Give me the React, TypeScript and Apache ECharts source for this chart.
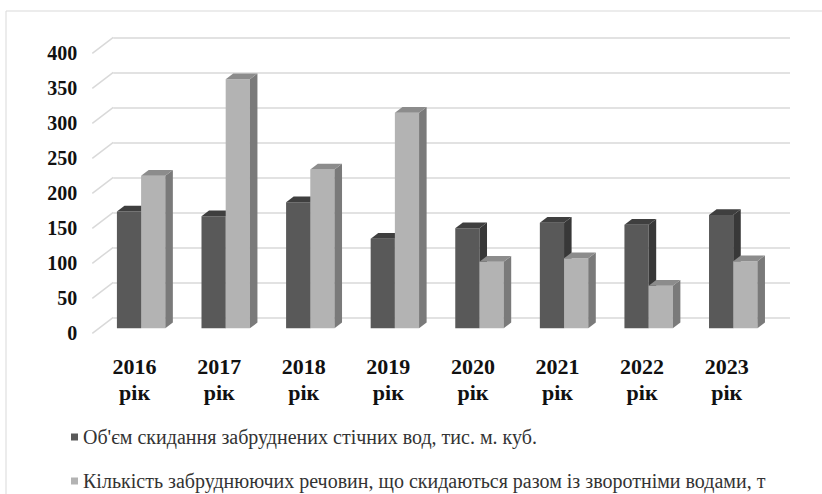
import { useEffect, useRef } from "react";
import * as echarts from "echarts";

// Years on the category axis
const categories = [
  "2016 рік",
  "2017 рік",
  "2018 рік",
  "2019 рік",
  "2020 рік",
  "2021 рік",
  "2022 рік",
  "2023 рік",
];

// Series 1: volume of polluted wastewater discharge, thousand m³
const wastewaterVolume = [167, 160, 180, 128, 143, 151, 148, 162];
// Series 2: pollutants discharged with return waters, t
const pollutantMass = [218, 356, 227, 308, 95, 100, 61, 96];

const seriesNames = [
  "Об'єм скидання забруднених стічних вод, тис. м. куб.",
  "Кількість забруднюючих речовин, що скидаються разом із зворотніми водами, т",
];

const yTicks = [0, 50, 100, 150, 200, 250, 300, 350, 400];

// Oblique depth of the floor (px) and where the boxes sit inside it
const DEPTH_X = 21;
const DEPTH_Y = -16;
const FRONT = 0.31;
const BACK = 0.67;
const BAR_FRAC = 0.286;

const SERIF = "Liberation Serif, serif";

type Shades = { front: string; side: string; top: string };

const darkShades: Shades = { front: "#595959", side: "#383838", top: "#3f3f3f" };
const lightShades: Shades = { front: "#b3b3b3", side: "#7a7a7a", top: "#8c8c8c" };

function boxRenderer(slot: number, shades: Shades) {
  return (_params: any, api: any) => {
    const i = api.value(0);
    const v = api.value(1);
    const base = api.coord([i, 0]);
    const top = api.coord([i, v]);
    const band = api.size([1, 0])[0];
    const w = band * BAR_FRAC;
    const x0 = base[0] - w + slot * w + FRONT * DEPTH_X;
    const yb = base[1] + FRONT * DEPTH_Y;
    const yt = top[1] + FRONT * DEPTH_Y;
    const dx = (BACK - FRONT) * DEPTH_X;
    const dy = (BACK - FRONT) * DEPTH_Y;
    return {
      type: "group",
      children: [
        {
          type: "rect",
          shape: { x: x0, y: yt, width: w, height: yb - yt },
          style: { fill: shades.front },
        },
        {
          type: "polygon",
          shape: {
            points: [
              [x0 + w, yt],
              [x0 + w + dx, yt + dy],
              [x0 + w + dx, yb + dy],
              [x0 + w, yb],
            ],
          },
          style: { fill: shades.side },
        },
        {
          type: "polygon",
          shape: {
            points: [
              [x0, yt],
              [x0 + dx, yt + dy],
              [x0 + w + dx, yt + dy],
              [x0 + w, yt],
            ],
          },
          style: { fill: shades.top },
        },
      ],
    };
  };
}

export default function App() {
  const ref = useRef<HTMLDivElement>(null);

  useEffect(() => {
    if (!ref.current) return;
    const chart = echarts.init(ref.current, undefined, { renderer: "svg" });

    const frontGrid = { left: 92.3, right: 53, top: 53.3, bottom: 160.7 };
    const backGrid = {
      left: frontGrid.left + DEPTH_X,
      right: frontGrid.right - DEPTH_X,
      top: frontGrid.top + DEPTH_Y,
      bottom: frontGrid.bottom - DEPTH_Y,
    };

    chart.setOption({
      animation: false,
      backgroundColor: "#ffffff",
      graphic: [
        {
          type: "rect",
          shape: { x: 6, y: 11, width: 900, height: 600 },
          style: { fill: "none", stroke: "#d9d9d9", lineWidth: 1 },
          silent: true,
          z: -10,
        },
      ],
      grid: [
        { ...frontGrid, containLabel: false },
        { ...backGrid, containLabel: false },
      ],
      xAxis: [
        {
          type: "category",
          gridIndex: 0,
          data: categories,
          axisLine: { show: false },
          axisTick: { show: false },
          axisLabel: {
            margin: 20,
            fontFamily: SERIF,
            fontWeight: "bold",
            fontSize: 22,
            lineHeight: 26,
            color: "#111",
            formatter: (v: string) => v.replace(" ", "\n"),
          },
        },
        {
          type: "category",
          gridIndex: 1,
          data: categories,
          show: false,
        },
      ],
      yAxis: [
        {
          type: "value",
          gridIndex: 0,
          min: 0,
          max: 400,
          interval: 50,
          axisLine: { show: false },
          axisTick: { show: false },
          splitLine: { show: false },
          axisLabel: {
            margin: 15,
            fontFamily: SERIF,
            fontWeight: "bold",
            fontSize: 20,
            color: "#111",
          },
        },
        {
          type: "value",
          gridIndex: 1,
          min: 0,
          max: 400,
          interval: 50,
          axisLine: { show: false },
          axisTick: { show: false },
          axisLabel: { show: false },
          splitLine: { show: true, lineStyle: { color: "#d9d9d9", width: 1.5 } },
        },
      ],
      legend: {
        orient: "vertical",
        left: 71,
        top: 426,
        padding: 0,
        itemWidth: 7,
        itemHeight: 7,
        itemGap: 22,
        icon: "rect",
        selectedMode: false,
        textStyle: {
          fontFamily: SERIF,
          fontSize: 20,
          lineHeight: 22,
          color: "#333",
        },
        data: [
          { name: seriesNames[0], itemStyle: { color: darkShades.front } },
          { name: seriesNames[1], itemStyle: { color: lightShades.front } },
        ],
      },
      series: [
        {
          // oblique connectors from the axis labels back to the wall gridlines
          type: "custom",
          xAxisIndex: 0,
          yAxisIndex: 0,
          silent: true,
          clip: false,
          data: yTicks.map((v) => [0, v]),
          renderItem: (_p: any, api: any) => {
            const pt = api.coord([0, api.value(1)]);
            const band = api.size([1, 0])[0];
            const x = pt[0] - band / 2;
            return {
              type: "line",
              shape: { x1: x, y1: pt[1], x2: x + DEPTH_X, y2: pt[1] + DEPTH_Y },
              style: { stroke: "#d9d9d9", lineWidth: 1.5 },
            };
          },
        },
        {
          name: seriesNames[0],
          type: "custom",
          xAxisIndex: 0,
          yAxisIndex: 0,
          clip: false,
          itemStyle: { color: darkShades.front },
          data: wastewaterVolume.map((v, i) => [i, v]),
          renderItem: boxRenderer(0, darkShades),
        },
        {
          name: seriesNames[1],
          type: "custom",
          xAxisIndex: 0,
          yAxisIndex: 0,
          clip: false,
          itemStyle: { color: lightShades.front },
          data: pollutantMass.map((v, i) => [i, v]),
          renderItem: boxRenderer(1, lightShades),
        },
      ],
    });

    return () => chart.dispose();
  }, []);

  return (
    <div
      ref={ref}
      style={{ position: "fixed", left: 0, top: 0, width: 822, height: 494 }}
    />
  );
}
